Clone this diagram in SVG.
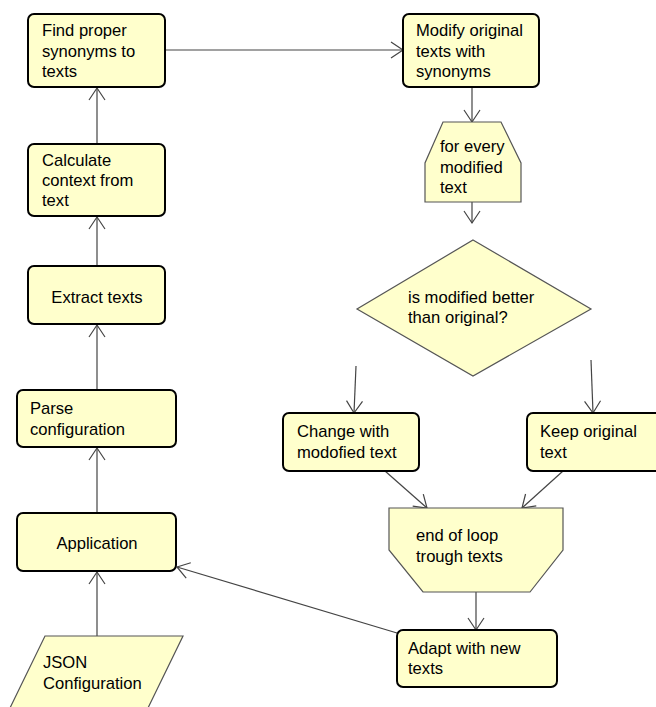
<svg xmlns="http://www.w3.org/2000/svg" width="656" height="707" viewBox="0 0 656 707">
<defs>
<style>
.box{fill:#FFFFCC;stroke:#000;stroke-width:2}
.shp{fill:#FFFFCC;stroke:#555;stroke-width:1.2}
text{font-family:"Liberation Sans",Arial,sans-serif;font-size:16.6px;fill:#000}
.c{text-anchor:middle}
.con line{stroke:#444;stroke-width:1.2;marker-end:url(#ah)}
</style>
<marker id="ah" markerUnits="userSpaceOnUse" markerWidth="20" markerHeight="20" refX="13" refY="8" orient="auto" viewBox="0 0 20 16">
<path d="M1,0 L13,8 L1,16" fill="none" stroke="#444" stroke-width="1.2"/>
</marker>
</defs>
<rect width="656" height="707" fill="#fff"/>
<g class="con">
<line x1="97" y1="636" x2="97" y2="572"/>
<line x1="97" y1="513" x2="97" y2="448"/>
<line x1="97" y1="390" x2="97" y2="325"/>
<line x1="97" y1="266" x2="97" y2="217"/>
<line x1="97" y1="144" x2="97" y2="88"/>
<line x1="165" y1="50" x2="403" y2="50"/>
<line x1="472" y1="87" x2="472" y2="122"/>
<line x1="472" y1="202" x2="472" y2="223"/>
<line x1="356" y1="366" x2="354" y2="413"/>
<line x1="591" y1="360" x2="593" y2="413"/>
<line x1="385" y1="471" x2="427" y2="508"/>
<line x1="563" y1="471" x2="522" y2="508"/>
<line x1="476" y1="592" x2="476" y2="630"/>
<line x1="397" y1="633" x2="177" y2="567"/>
</g>
<g id="find"><rect class="box" x="28" y="14" width="137" height="73" rx="6"/>
<text x="42" y="36">Find proper</text><text x="42" y="56.5">synonyms to</text><text x="42" y="77">texts</text></g>
<g id="calc"><rect class="box" x="28" y="144" width="137" height="72" rx="6"/>
<text x="42" y="166">Calculate</text><text x="42" y="186">context from</text><text x="42" y="206">text</text></g>
<g id="extract"><rect class="box" x="28" y="266" width="137" height="58" rx="6"/>
<text class="c" x="97" y="303">Extract texts</text></g>
<g id="parse"><rect class="box" x="17" y="390" width="159" height="57" rx="6"/>
<text x="30" y="414">Parse</text><text x="30" y="435">configuration</text></g>
<g id="app"><rect class="box" x="17" y="513" width="159" height="58" rx="6"/>
<text class="c" x="97" y="549">Application</text></g>
<g id="json"><polygon class="shp" points="45,636 183,636 147,710 9,710"/>
<text x="43" y="668">JSON</text><text x="43" y="689">Configuration</text></g>
<g id="modify"><rect class="box" x="403" y="14" width="136" height="73" rx="6"/>
<text x="416" y="36">Modify original</text><text x="416" y="56.5">texts with</text><text x="416" y="77">synonyms</text></g>
<g id="loop"><polygon class="shp" points="443,122 501,122 521,163 521,202 425,202 425,163"/>
<text x="440" y="152">for every</text><text x="440" y="173">modified</text><text x="440" y="193">text</text></g>
<g id="decision"><polygon class="shp" points="473,240 591,309 473,376 357,309"/>
<text x="408" y="303">is modified better</text><text x="408" y="323">than original?</text></g>
<g id="change"><rect class="box" x="283" y="413" width="136" height="58" rx="6"/>
<text x="297" y="437">Change with</text><text x="297" y="458">modofied text</text></g>
<g id="keep"><rect class="box" x="527" y="413" width="140" height="58" rx="6"/>
<text x="540" y="437">Keep original</text><text x="540" y="458">text</text></g>
<g id="endloop"><polygon class="shp" points="389,508 563,508 563,550 530,592 423,592 389,550"/>
<text x="416" y="541">end of loop</text><text x="416" y="562">trough texts</text></g>
<g id="adapt"><rect class="box" x="397" y="630" width="160" height="57" rx="6"/>
<text x="408" y="654">Adapt with new</text><text x="408" y="674">texts</text></g>
</svg>
